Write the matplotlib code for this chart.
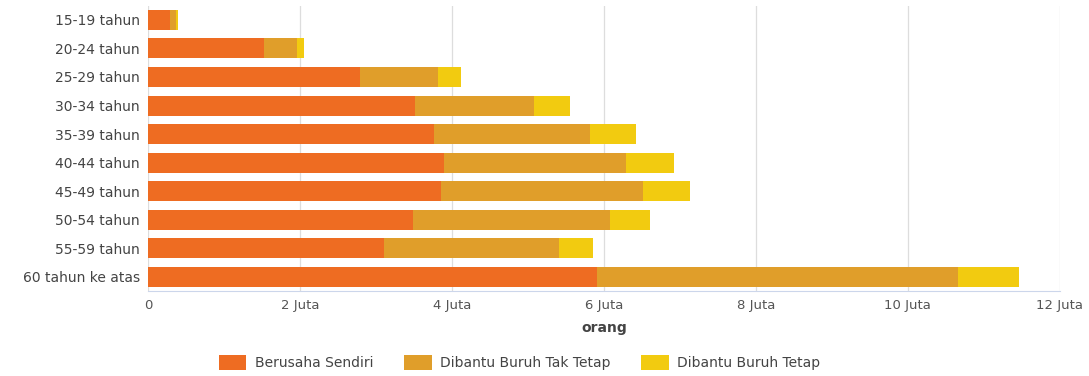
import matplotlib.pyplot as plt
import numpy as np

# kelompok umur
kelompok = ['15-19 tahun', '20-24 tahun', '25-29 tahun', '30-34 tahun', '35-39 tahun',
            '40-44 tahun', '45-49 tahun', '50-54 tahun', '55-59 tahun', '60 tahun ke atas']

# jumlah (juta orang)
berusaha_sendiri = [0.29, 1.53, 2.79, 3.51, 3.77, 3.89, 3.86, 3.49, 3.10, 5.91]
buruh_tak_tetap = [0.08, 0.43, 1.02, 1.57, 2.05, 2.40, 2.65, 2.59, 2.31, 4.75]
buruh_tetap = [0.02, 0.09, 0.31, 0.47, 0.60, 0.64, 0.62, 0.53, 0.45, 0.80]

xticks = [0, 2, 4, 6, 8, 10, 12]
xticklabels = ['0', '2 Juta', '4 Juta', '6 Juta', '8 Juta', '10 Juta', '12 Juta']

warna = ['#EE6C22', '#E09E2A', '#F2CB10']
label = ['Berusaha Sendiri', 'Dibantu Buruh Tak Tetap', 'Dibantu Buruh Tetap']

fig = plt.figure(figsize=(10.89, 3.76), dpi=100)
ax = fig.add_axes([0.136, 0.226, 0.837, 0.759])

y = np.arange(len(kelompok))
kiri = np.zeros(len(kelompok))
for vals, c, lb in zip([berusaha_sendiri, buruh_tak_tetap, buruh_tetap], warna, label):
    ax.barh(y, vals, left=kiri, height=0.7, color=c, label=lb, zorder=3)
    kiri += np.array(vals)

ax.set_ylim(len(kelompok) - 0.5, -0.5)
ax.set_xlim(0, 12)
ax.set_yticks(y)
ax.set_yticklabels(kelompok, fontsize=10, color='#444444')
ax.set_xticks(xticks)
ax.set_xticklabels(xticklabels, fontsize=9.5, color='#555555')
ax.tick_params(axis='both', length=0, pad=6)
ax.grid(axis='x', color='#DDDDDD', linewidth=0.9, zorder=0)
for s in ['top', 'right', 'left']:
    ax.spines[s].set_visible(False)
ax.spines['bottom'].set_color('#CCD6EB')
ax.set_xlabel('orang', fontsize=10, color='#444444', fontweight='bold', labelpad=6)

fig.legend(loc='center', bbox_to_anchor=(0.477, 0.035), ncol=3, frameon=False,
           fontsize=10, handlelength=2.0, handleheight=1.3, columnspacing=2.2,
           handletextpad=0.6, labelcolor='#444444')

fig.savefig('out.png', dpi=100)
